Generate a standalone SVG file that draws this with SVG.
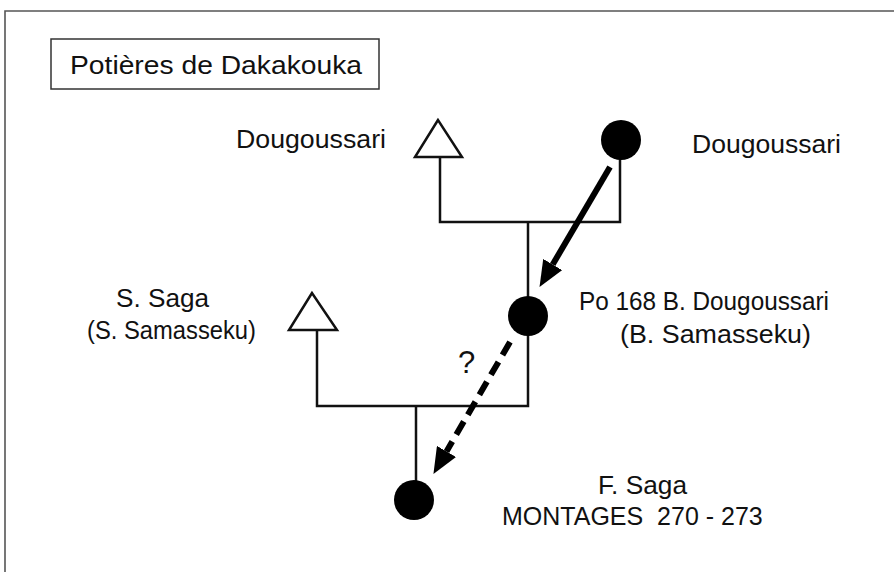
<svg xmlns="http://www.w3.org/2000/svg" width="894" height="572" viewBox="0 0 894 572">
  <style>
    .lbl { font-family: "Liberation Sans", Arial, Helvetica, sans-serif; font-size: 25px; fill: #111; }
    .big { font-size: 26px; }
    .q { font-size: 31px; }
    .tie { fill: none; stroke: #111; stroke-width: 2.5; }
    .male { fill: #fff; stroke: #111; stroke-width: 2.5; stroke-linejoin: miter; }
    .female { fill: #000; }
    .flow { fill: none; stroke: #000; stroke-width: 6; }
  </style>
  <defs>
    <marker id="head" markerUnits="userSpaceOnUse" markerWidth="26" markerHeight="22" refX="0" refY="11" orient="auto">
      <path d="M0,0 L26,11 L0,22 z" fill="#000"/>
    </marker>
  </defs>

  <rect width="894" height="572" fill="#fff"/>

  <!-- outer frame (open to the right and bottom) -->
  <path d="M5,572 V11 H894" fill="none" stroke="#555" stroke-width="1.6"/>

  <!-- title -->
  <g id="title">
    <rect x="51" y="39" width="328" height="50" fill="#fff" stroke="#333" stroke-width="1.5"/>
    <text class="lbl big" x="70" y="74" textLength="292" lengthAdjust="spacingAndGlyphs">Potières de Dakakouka</text>
  </g>

  <!-- kinship lines -->
  <g id="ties">
    <path class="tie" d="M440,157 V222 H620 V158"/>
    <path class="tie" d="M528,222 V298"/>
    <path class="tie" d="M317,330 V406 H528 V334"/>
    <path class="tie" d="M416,406 V482"/>
  </g>

  <g id="father1">
    <polygon class="male" points="438,120 415,157 462,157"/>
    <text class="lbl" x="236" y="148" textLength="150" lengthAdjust="spacingAndGlyphs">Dougoussari</text>
  </g>

  <g id="mother1">
    <circle class="female" cx="621" cy="140" r="20"/>
    <text class="lbl" x="692" y="153" textLength="149" lengthAdjust="spacingAndGlyphs">Dougoussari</text>
  </g>

  <g id="father2">
    <polygon class="male" points="312,293 289,330 337,330"/>
    <text class="lbl" x="116" y="307" textLength="93" lengthAdjust="spacingAndGlyphs">S. Saga</text>
    <text class="lbl" x="87" y="339" textLength="169" lengthAdjust="spacingAndGlyphs">(S. Samasseku)</text>
  </g>

  <g id="mother2">
    <circle class="female" cx="528" cy="316" r="20"/>
    <text class="lbl" x="579" y="310" textLength="250" lengthAdjust="spacingAndGlyphs">Po 168 B. Dougoussari</text>
    <text class="lbl" x="620" y="343" textLength="191" lengthAdjust="spacingAndGlyphs">(B. Samasseku)</text>
  </g>

  <g id="daughter">
    <circle class="female" cx="414" cy="500" r="20"/>
    <text class="lbl" x="598" y="494" textLength="89" lengthAdjust="spacingAndGlyphs">F. Saga</text>
    <text class="lbl" x="502" y="525" xml:space="preserve">MONTAGES  270 - 273</text>
  </g>

  <!-- transmission arrows -->
  <g id="connectors">
    <path class="flow" d="M610,167 L552.7,264.5" marker-end="url(#head)"/>
    <path class="flow" d="M510,342 L446.5,451.4" stroke-dasharray="15,8" marker-end="url(#head)"/>
    <text class="lbl q" x="458" y="373">?</text>
  </g>
</svg>
